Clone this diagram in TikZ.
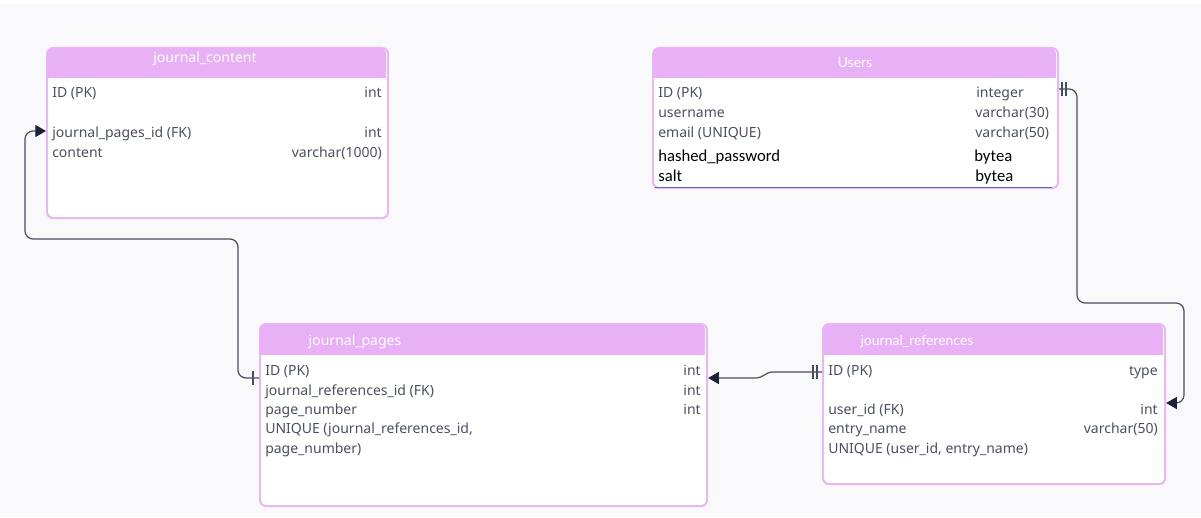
\documentclass[tikz,border=0pt]{standalone}
\usepackage{fontspec}
\setmainfont{Noto Sans}
\newfontfamily\latof{Lato}
\newfontfamily\calf{Carlito}
\usetikzlibrary{arrows.meta}
\definecolor{bg}{HTML}{F9F9FB}
\definecolor{pinkh}{HTML}{E8B0F5}
\definecolor{pinkb}{HTML}{E9B8F3}
\definecolor{txt}{HTML}{4A5060}
\definecolor{wire}{HTML}{474D5C}
\definecolor{tip}{HTML}{1C2236}
\definecolor{blueline}{HTML}{5A6FA8}
\tikzset{
  tbl/.style={draw=pinkb, line width=1.6pt, fill=white, rounded corners=4.5pt},
  hdr/.style={fill=pinkh, rounded corners=4.5pt},
  ttl/.style={anchor=base, text=white, inner sep=0pt, font=\fontsize{10.5pt}{12pt}\selectfont},
  fld/.style={anchor=base west, text=txt, inner sep=0pt, font=\fontsize{10.5pt}{12pt}\selectfont},
  typ/.style={anchor=base east, text=txt, inner sep=0pt, font=\fontsize{10.5pt}{12pt}\selectfont},
  typl/.style={anchor=base west, text=txt, inner sep=0pt, font=\fontsize{10.5pt}{12pt}\selectfont},
  calfld/.style={anchor=base west, text=black, inner sep=0pt, font=\calf\fontsize{12.5pt}{14pt}\selectfont},
  conn/.style={draw=wire, line width=0.9pt, rounded corners=6pt},
  tipend/.style={-{Triangle[length=8pt,width=9pt,color=tip]}},
  bar/.style={draw=wire, line width=0.9pt},
}
\begin{document}
\begin{tikzpicture}[x=0.75pt,y=-0.75pt]
\fill[bg] (0,0) rectangle (1201,517);
\fill[white] (0,0) rectangle (1201,4);
\useasboundingbox (0,0) rectangle (1201,517);

% ---------- journal_content ----------
\node[tbl, minimum width=341*0.75pt, minimum height=170*0.75pt, anchor=north west, inner sep=0pt] (jc) at (46,47) {};
\fill[hdr] (47,48) rectangle (386,78);
\fill[pinkh] (47,70) rectangle (386,78);
\node[ttl] (jct) at (205,63) {journal\_content};
\node[fld] (jc1) at (52,98) {ID (PK)};
\node[typ] (jc1t) at (382,98) {int};
\node[fld] (jc2) at (52,137) {journal\_pages\_id (FK)};
\node[typ] (jc2t) at (382,137) {int};
\node[fld] (jc3) at (52,157) {content};
\node[typ] (jc3t) at (382,157) {varchar(1000)};

% ---------- Users ----------
\node[tbl, minimum width=405*0.75pt, minimum height=140*0.75pt, anchor=north west, inner sep=0pt] (us) at (652,47) {};
\fill[hdr] (653,48) rectangle (1056,78);
\fill[pinkh] (653,70) rectangle (1056,78);
\draw[blueline, line width=0.8pt] (655,187.5) -- (1052,187.5);
\node[ttl, font=\latof\fontsize{10.5pt}{12pt}\selectfont] (ust) at (855,67) {Users};
\begin{scope}[every node/.append style={font=\latof\fontsize{10.5pt}{12pt}\selectfont}]
\node[fld] (us1) at (658,98) {ID (PK)};
\node[typl] (us1t) at (976,98) {integer};
\node[fld] (us2) at (658,117) {username};
\node[typl] (us2t) at (975,117) {varchar(30)};
\node[fld] (us3) at (658,137) {email (UNIQUE)};
\node[typl] (us3t) at (975,137) {varchar(50)};
\end{scope}
\node[calfld] (us4) at (658,161) {hashed\_password};
\node[calfld] (us4t) at (974,161) {bytea};
\node[calfld] (us5) at (658,181) {salt};
\node[calfld] (us5t) at (975,181) {bytea};

% ---------- journal_pages ----------
\node[tbl, minimum width=447*0.75pt, minimum height=182*0.75pt, anchor=north west, inner sep=0pt] (jp) at (259,323) {};
\fill[hdr] (260,324) rectangle (705,355);
\fill[pinkh] (260,347) rectangle (705,355);
\node[ttl] (jpt) at (355,345) {journal\_pages};
\node[fld] (jp1) at (265,375) {ID (PK)};
\node[typ] (jp1t) at (701,375) {int};
\node[fld] (jp2) at (265,395) {journal\_references\_id (FK)};
\node[typ] (jp2t) at (701,395) {int};
\node[fld] (jp3) at (265,414) {page\_number};
\node[typ] (jp3t) at (701,414) {int};
\node[fld] (jp4) at (265,433) {UNIQUE (journal\_references\_id,};
\node[fld] (jp5) at (265,453) {page\_number)};

% ---------- journal_references ----------
\node[tbl, minimum width=342*0.75pt, minimum height=160*0.75pt, anchor=north west, inner sep=0pt] (jr) at (822,323) {};
\fill[hdr] (823,324) rectangle (1163,355);
\fill[pinkh] (823,347) rectangle (1163,355);
\node[ttl, font=\latof\fontsize{10.5pt}{12pt}\selectfont] (jrt) at (917,345) {journal\_references};
\begin{scope}[every node/.append style={font=\latof\fontsize{10.2pt}{12pt}\selectfont}]
\node[fld] (jr1) at (828,375) {ID (PK)};
\node[typ] (jr1t) at (1158,375) {type};
\node[fld] (jr2) at (828,414) {user\_id (FK)};
\node[typ] (jr2t) at (1158,414) {int};
\node[fld] (jr3) at (828,433) {entry\_name};
\node[typ] (jr3t) at (1158,433) {varchar(50)};
\node[fld] (jr4) at (828,453) {UNIQUE (user\_id, entry\_name)};
\end{scope}

% ---------- connectors ----------
% journal_pages.ID -> journal_content.journal_pages_id
\coordinate (a1) at (jp.west |- 0,378);
\coordinate (a2) at (jc.west |- 0,131);
\draw[conn, tipend] (a1) -- (238,378) -- (238,239) -- (25,239) -- (25,131) -- (a2);
\draw[bar] (253,371) -- (253,385);

% journal_references.ID -> journal_pages
\coordinate (b1) at (jr.west |- 0,372);
\coordinate (b2) at (jp.east |- 0,378);
\draw[draw=wire, line width=0.9pt, tipend] (b1) -- (773,372) .. controls (765,372) and (764,378) .. (755,378) -- (b2);
\draw[bar] (813,365) -- (813,379);
\draw[bar] (817,365) -- (817,379);

% Users.ID -> journal_references.user_id
\coordinate (c1) at (us.east |- 0,89);
\coordinate (c2) at (jr.east |- 0,403);
\draw[conn, tipend] (c1) -- (1077,89) -- (1077,303) -- (1184,303) -- (1184,403) -- (c2);
\draw[bar] (1062,82) -- (1062,96);
\draw[bar] (1066,82) -- (1066,96);
\end{tikzpicture}
\end{document}
